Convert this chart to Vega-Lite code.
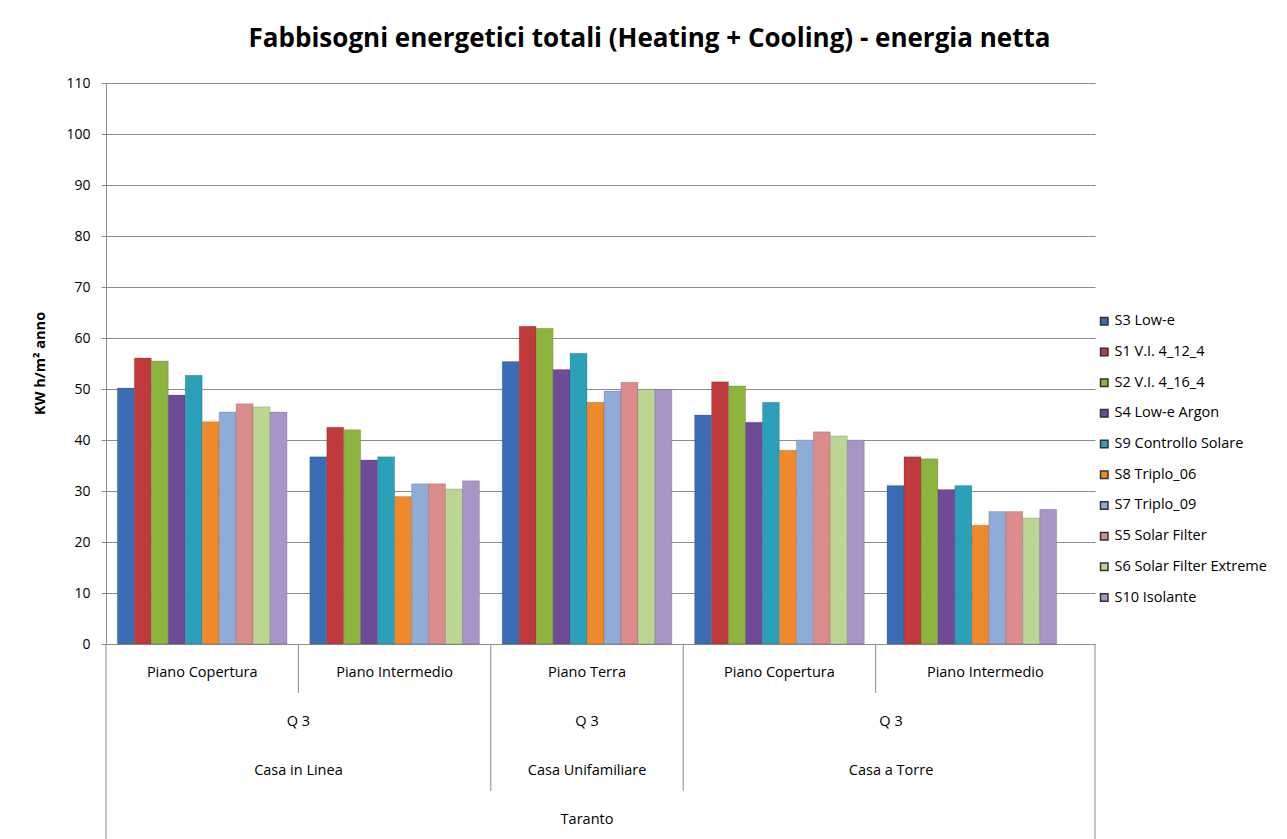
{
  "$schema": "https://vega.github.io/schema/vega-lite/v6.json",
  "width": 989,
  "height": 561,
  "autosize": {"type": "none"},
  "padding": {"left": 106, "top": 83, "right": 192, "bottom": 195},
  "background": "#ffffff",
  "config": {"font": "Open Sans", "view": {"stroke": null}},
  "title": {
    "text": "Fabbisogni energetici totali (Heating + Cooling) - energia netta",
    "fontSize": 26, "fontWeight": "bold", "font": "Open Sans", "color": "#000000",
    "anchor": "middle", "frame": "group", "dx": 49, "offset": 24
  },
  "datasets": {
    "bars": [
      {"grp": "G1", "series": "S3 Low-e", "value": 50.2},
      {"grp": "G1", "series": "S1 V.I. 4_12_4", "value": 56.1},
      {"grp": "G1", "series": "S2 V.I. 4_16_4", "value": 55.5},
      {"grp": "G1", "series": "S4 Low-e Argon", "value": 48.8},
      {"grp": "G1", "series": "S9 Controllo Solare", "value": 52.7},
      {"grp": "G1", "series": "S8 Triplo_06", "value": 43.6},
      {"grp": "G1", "series": "S7 Triplo_09", "value": 45.5},
      {"grp": "G1", "series": "S5 Solar Filter", "value": 47.1},
      {"grp": "G1", "series": "S6 Solar Filter Extreme", "value": 46.5},
      {"grp": "G1", "series": "S10 Isolante", "value": 45.5},
      {"grp": "G2", "series": "S3 Low-e", "value": 36.7},
      {"grp": "G2", "series": "S1 V.I. 4_12_4", "value": 42.5},
      {"grp": "G2", "series": "S2 V.I. 4_16_4", "value": 42.0},
      {"grp": "G2", "series": "S4 Low-e Argon", "value": 36.1},
      {"grp": "G2", "series": "S9 Controllo Solare", "value": 36.7},
      {"grp": "G2", "series": "S8 Triplo_06", "value": 28.9},
      {"grp": "G2", "series": "S7 Triplo_09", "value": 31.4},
      {"grp": "G2", "series": "S5 Solar Filter", "value": 31.4},
      {"grp": "G2", "series": "S6 Solar Filter Extreme", "value": 30.4},
      {"grp": "G2", "series": "S10 Isolante", "value": 32.0},
      {"grp": "G3", "series": "S3 Low-e", "value": 55.4},
      {"grp": "G3", "series": "S1 V.I. 4_12_4", "value": 62.3},
      {"grp": "G3", "series": "S2 V.I. 4_16_4", "value": 61.9},
      {"grp": "G3", "series": "S4 Low-e Argon", "value": 53.8},
      {"grp": "G3", "series": "S9 Controllo Solare", "value": 57.0},
      {"grp": "G3", "series": "S8 Triplo_06", "value": 47.4},
      {"grp": "G3", "series": "S7 Triplo_09", "value": 49.6},
      {"grp": "G3", "series": "S5 Solar Filter", "value": 51.3},
      {"grp": "G3", "series": "S6 Solar Filter Extreme", "value": 49.9},
      {"grp": "G3", "series": "S10 Isolante", "value": 49.9},
      {"grp": "G4", "series": "S3 Low-e", "value": 44.9},
      {"grp": "G4", "series": "S1 V.I. 4_12_4", "value": 51.4},
      {"grp": "G4", "series": "S2 V.I. 4_16_4", "value": 50.6},
      {"grp": "G4", "series": "S4 Low-e Argon", "value": 43.5},
      {"grp": "G4", "series": "S9 Controllo Solare", "value": 47.4},
      {"grp": "G4", "series": "S8 Triplo_06", "value": 38.0},
      {"grp": "G4", "series": "S7 Triplo_09", "value": 40.0},
      {"grp": "G4", "series": "S5 Solar Filter", "value": 41.6},
      {"grp": "G4", "series": "S6 Solar Filter Extreme", "value": 40.8},
      {"grp": "G4", "series": "S10 Isolante", "value": 40.0},
      {"grp": "G5", "series": "S3 Low-e", "value": 31.1},
      {"grp": "G5", "series": "S1 V.I. 4_12_4", "value": 36.7},
      {"grp": "G5", "series": "S2 V.I. 4_16_4", "value": 36.3},
      {"grp": "G5", "series": "S4 Low-e Argon", "value": 30.3},
      {"grp": "G5", "series": "S9 Controllo Solare", "value": 31.1},
      {"grp": "G5", "series": "S8 Triplo_06", "value": 23.3},
      {"grp": "G5", "series": "S7 Triplo_09", "value": 26.0},
      {"grp": "G5", "series": "S5 Solar Filter", "value": 26.0},
      {"grp": "G5", "series": "S6 Solar Filter Extreme", "value": 24.7},
      {"grp": "G5", "series": "S10 Isolante", "value": 26.4}
    ],
    "leftEdges": [
      {"grp": "G1", "depth": 4},
      {"grp": "G2", "depth": 1},
      {"grp": "G3", "depth": 3},
      {"grp": "G4", "depth": 3},
      {"grp": "G5", "depth": 1}
    ],
    "rightEdges": [
      {"grp": "G5", "depth": 4}
    ],
    "centerLabels": [
      {"grp": "G1", "level": 1, "label": "Piano Copertura"},
      {"grp": "G2", "level": 1, "label": "Piano Intermedio"},
      {"grp": "G3", "level": 1, "label": "Piano Terra"},
      {"grp": "G4", "level": 1, "label": "Piano Copertura"},
      {"grp": "G3", "level": 2, "label": "Q 3"},
      {"grp": "G3", "level": 3, "label": "Casa Unifamiliare"},
      {"grp": "G3", "level": 4, "label": "Taranto"}
    ],
    "lastLabels": [
      {"grp": "G5", "level": 1, "label": "Piano Intermedio"}
    ],
    "spanLeft": [
      {"grp": "G2", "level": 2, "label": "Q 3"},
      {"grp": "G2", "level": 3, "label": "Casa in Linea"}
    ],
    "spanRight": [
      {"grp": "G5", "level": 2, "label": "Q 3"},
      {"grp": "G5", "level": 3, "label": "Casa a Torre"}
    ]
  },
  "layer": [
    {
      "data": {"name": "bars"},
      "mark": {"type": "bar", "stroke": "#333333", "strokeOpacity": 0.3, "strokeWidth": 0.6},
      "encoding": {
        "x": {"field": "grp", "type": "nominal",
              "scale": {"domain": ["G1", "G2", "G3", "G4", "G5"], "paddingInner": 0, "paddingOuter": 0.07, "align": 0}, "axis": null},
        "xOffset": {"field": "series", "type": "nominal",
              "scale": {"domain": ["S3 Low-e", "S1 V.I. 4_12_4", "S2 V.I. 4_16_4", "S4 Low-e Argon", "S9 Controllo Solare", "S8 Triplo_06", "S7 Triplo_09", "S5 Solar Filter", "S6 Solar Filter Extreme", "S10 Isolante"],
                        "paddingInner": 0, "paddingOuter": 0.67}},
        "y": {"field": "value", "type": "quantitative",
              "scale": {"domain": [0, 110], "nice": false},
              "axis": {"values": [0, 10, 20, 30, 40, 50, 60, 70, 80, 90, 100, 110],
                       "title": "KW h/m² anno", "titleFontSize": 14.5, "titleFontWeight": "bold",
                       "titleColor": "#000000", "titleX": -66, "titleY": 280, "titleAngle": -90,
                       "titleAlign": "center", "titleBaseline": "middle",
                       "labelFontSize": 14, "labelColor": "#000000", "labelPadding": 11,
                       "tickSize": 5, "tickColor": "#8c8c8c", "domainColor": "#8c8c8c",
                       "grid": true, "gridColor": "#8c8c8c", "gridWidth": 1}},
        "color": {"field": "series", "type": "nominal",
              "scale": {"domain": ["S3 Low-e", "S1 V.I. 4_12_4", "S2 V.I. 4_16_4", "S4 Low-e Argon", "S9 Controllo Solare", "S8 Triplo_06", "S7 Triplo_09", "S5 Solar Filter", "S6 Solar Filter Extreme", "S10 Isolante"],
                        "range": ["#3a6db4", "#c0393b", "#8db43e", "#6e4a97", "#2aa0b9", "#f0892a", "#8facd9", "#db8b8b", "#bbd593", "#a894c6"]},
              "legend": {"orient": "none", "legendX": 991, "legendY": 231, "title": null,
                         "labelFontSize": 14.5, "labelColor": "#000000", "symbolType": "square",
                         "symbolSize": 56, "rowPadding": 15.7, "labelOffset": 3}}
      }
    },
    {
      "data": {"name": "leftEdges"},
      "mark": {"type": "rule", "color": "#8c8c8c", "strokeWidth": 1},
      "encoding": {
        "x": {"field": "grp", "type": "nominal", "bandPosition": 0},
        "y": {"field": "depth", "type": "quantitative", "scale": {"domain": [0, 4], "range": [561, 757], "nice": false, "zero": false}, "axis": null},
        "y2": {"datum": 0}
      }
    },
    {
      "data": {"name": "rightEdges"},
      "mark": {"type": "rule", "color": "#8c8c8c", "strokeWidth": 1},
      "encoding": {
        "x": {"field": "grp", "type": "nominal", "bandPosition": 1.14},
        "y": {"field": "depth", "type": "quantitative", "scale": {"domain": [0, 4], "range": [561, 757], "nice": false, "zero": false}, "axis": null},
        "y2": {"datum": 0}
      }
    },
    {
      "data": {"name": "centerLabels"},
      "mark": {"type": "text", "fontSize": 14.5, "color": "#000000", "align": "center", "baseline": "middle"},
      "encoding": {
        "x": {"field": "grp", "type": "nominal", "bandPosition": 0.5},
        "y": {"field": "level", "type": "quantitative", "scale": {"domain": [0.5, 4.5], "range": [565.5, 761.5], "nice": false, "zero": false}, "axis": null},
        "text": {"field": "label"}
      }
    },
    {
      "data": {"name": "lastLabels"},
      "mark": {"type": "text", "fontSize": 14.5, "color": "#000000", "align": "center", "baseline": "middle"},
      "encoding": {
        "x": {"field": "grp", "type": "nominal", "bandPosition": 0.57},
        "y": {"field": "level", "type": "quantitative", "scale": {"domain": [0.5, 4.5], "range": [565.5, 761.5], "nice": false, "zero": false}, "axis": null},
        "text": {"field": "label"}
      }
    },
    {
      "data": {"name": "spanLeft"},
      "mark": {"type": "text", "fontSize": 14.5, "color": "#000000", "align": "center", "baseline": "middle"},
      "encoding": {
        "x": {"field": "grp", "type": "nominal", "bandPosition": 0},
        "y": {"field": "level", "type": "quantitative", "scale": {"domain": [0.5, 4.5], "range": [565.5, 761.5], "nice": false, "zero": false}, "axis": null},
        "text": {"field": "label"}
      }
    },
    {
      "data": {"name": "spanRight"},
      "mark": {"type": "text", "fontSize": 14.5, "color": "#000000", "align": "center", "baseline": "middle"},
      "encoding": {
        "x": {"field": "grp", "type": "nominal", "bandPosition": 0.08},
        "y": {"field": "level", "type": "quantitative", "scale": {"domain": [0.5, 4.5], "range": [565.5, 761.5], "nice": false, "zero": false}, "axis": null},
        "text": {"field": "label"}
      }
    }
  ],
  "resolve": {"scale": {"y": "independent"}}
}
